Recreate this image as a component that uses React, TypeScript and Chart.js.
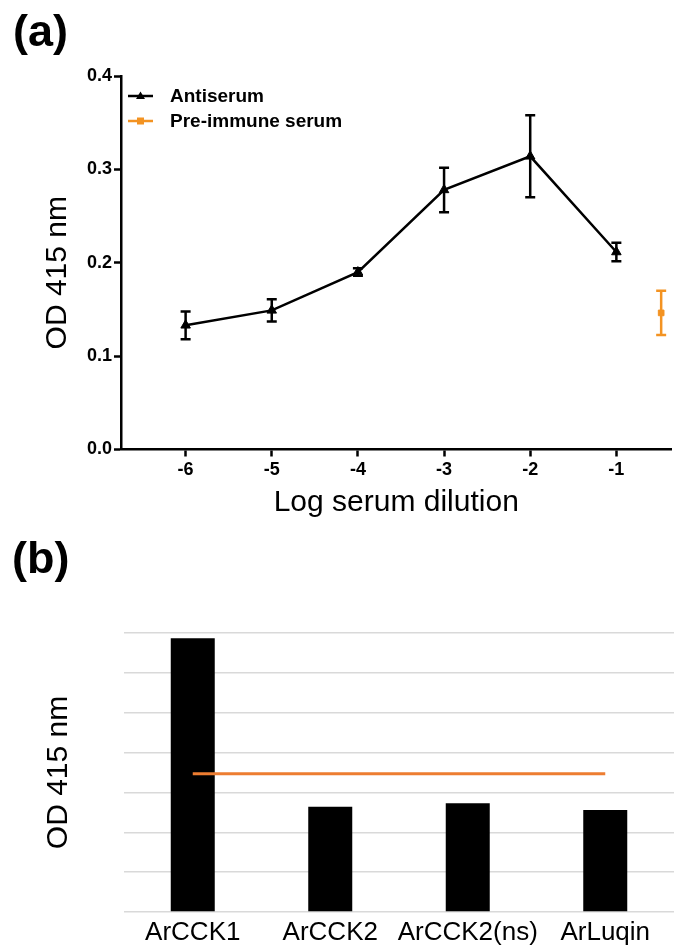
import React, { useEffect, useRef } from 'react';
import { Chart, registerables } from 'chart.js';

Chart.register(...registerables);

// ---------- Data: panel (a) ----------
const dilutions = [-6, -5, -4, -3, -2, -1];
const antiserumOD = [0.133, 0.149, 0.19, 0.278, 0.314, 0.2115];
const antiserumSEM = [0.0148, 0.012, 0.004, 0.0238, 0.0439, 0.01];
const preImmuneX = [-0.48];
const preImmuneOD = [0.1463];
const preImmuneSEM = [0.0237];
const yTicksA = [0, 0.1, 0.2, 0.3, 0.4];
const xTicksA = [-6, -5, -4, -3, -2, -1];

// ---------- Data: panel (b) ----------
const peptides = ['ArCCK1', 'ArCCK2', 'ArCCK2(ns)', 'ArLuqin'];
const peptideOD = [0.687, 0.264, 0.273, 0.256];
const preImmuneLevel = [0.347, 0.347, 0.347, 0.347];

const FONT = '"Liberation Sans", Arial, Helvetica, sans-serif';
const ORANGE_A = '#F39322';
const ORANGE_B = '#ED7D31';

const errorBarPlugin = {
  id: 'errorBars',
  afterDatasetsDraw(chart: any) {
    const { ctx } = chart;
    const yScale = chart.scales.y;
    chart.data.datasets.forEach((ds: any, i: number) => {
      const errs = ds.errors;
      if (!errs) return;
      const meta = chart.getDatasetMeta(i);
      meta.data.forEach((pt: any, j: number) => {
        const v = ds.data[j].y;
        const e = errs[j];
        const x = pt.x;
        const yTop = yScale.getPixelForValue(v + e);
        const yBot = yScale.getPixelForValue(v - e);
        ctx.save();
        ctx.strokeStyle = ds.borderColor;
        ctx.lineWidth = 2.5;
        ctx.beginPath();
        ctx.moveTo(x, yTop);
        ctx.lineTo(x, yBot);
        ctx.moveTo(x - 5, yTop);
        ctx.lineTo(x + 5, yTop);
        ctx.moveTo(x - 5, yBot);
        ctx.lineTo(x + 5, yBot);
        ctx.stroke();
        ctx.restore();
      });
    });
  },
};

const legendPluginA = {
  id: 'legendA',
  afterDraw(chart: any) {
    const { ctx, chartArea } = chart;
    chart.data.datasets.forEach((ds: any, i: number) => {
      const y = chartArea.top + 20 + i * 25;
      const x0 = chartArea.left + 7;
      const x1 = chartArea.left + 32;
      const xm = (x0 + x1) / 2;
      ctx.save();
      ctx.strokeStyle = ds.borderColor;
      ctx.fillStyle = ds.backgroundColor;
      ctx.lineWidth = 2.5;
      ctx.beginPath();
      ctx.moveTo(x0, y);
      ctx.lineTo(x1, y);
      ctx.stroke();
      if (ds.pointStyle === 'triangle') {
        ctx.beginPath();
        ctx.moveTo(xm, y - 4.5);
        ctx.lineTo(xm + 4.5, y + 3);
        ctx.lineTo(xm - 4.5, y + 3);
        ctx.closePath();
        ctx.fill();
      } else {
        ctx.fillRect(xm - 3.5, y - 3.5, 7, 7);
      }
      ctx.fillStyle = '#000';
      ctx.font = `bold 19px ${FONT}`;
      ctx.textBaseline = 'middle';
      ctx.textAlign = 'left';
      ctx.fillText(ds.label, chartArea.left + 49, y + 1);
      ctx.restore();
    });
  },
};

const yTitlePluginA = {
  id: 'yTitleA',
  afterDraw(chart: any) {
    const { ctx, chartArea } = chart;
    ctx.save();
    ctx.translate(58, (chartArea.top + chartArea.bottom) / 2 + 10);
    ctx.rotate(-Math.PI / 2);
    ctx.font = `30px ${FONT}`;
    ctx.fillStyle = '#000';
    ctx.textAlign = 'center';
    ctx.textBaseline = 'middle';
    ctx.fillText('OD 415 nm', 0, 0);
    ctx.restore();
  },
};

function makeConfigA(): any {
  return {
    type: 'line',
    data: {
      datasets: [
        {
          label: 'Antiserum',
          data: dilutions.map((x, i) => ({ x, y: antiserumOD[i] })),
          errors: antiserumSEM,
          borderColor: '#000',
          backgroundColor: '#000',
          borderWidth: 2.5,
          pointStyle: 'triangle',
          pointRadius: 5.5,
          pointBorderWidth: 1,
        },
        {
          label: 'Pre-immune serum',
          data: preImmuneX.map((x, i) => ({ x, y: preImmuneOD[i] })),
          errors: preImmuneSEM,
          borderColor: ORANGE_A,
          backgroundColor: ORANGE_A,
          pointStyle: 'rect',
          pointRadius: 4,
          showLine: false,
        },
      ],
    },
    options: {
      responsive: false,
      animation: false,
      layout: { padding: { top: 76, left: 0, right: 0, bottom: 0 } },
      plugins: { legend: { display: false }, tooltip: { enabled: false } },
      scales: {
        x: {
          type: 'linear',
          min: -6.75,
          max: -0.36,
          afterFit(s: any) {
            s.height = 80.5;
          },
          afterBuildTicks(s: any) {
            s.ticks = xTicksA.map((v) => ({ value: v }));
          },
          ticks: {
            color: '#000',
            font: { family: FONT, size: 18, weight: 'bold' },
            padding: 3,
            callback: (v: any) => String(v),
          },
          grid: {
            display: true,
            drawOnChartArea: false,
            drawTicks: true,
            tickLength: 7,
            tickWidth: 2.5,
            tickColor: '#000',
          },
          border: { display: true, color: '#000', width: 2.5 },
          title: {
            display: true,
            text: 'Log serum dilution',
            color: '#000',
            font: { family: FONT, size: 30 },
            padding: { top: 0, bottom: 9 },
          },
        },
        y: {
          min: 0,
          max: 0.4,
          afterFit(s: any) {
            s.width = 121;
          },
          afterBuildTicks(s: any) {
            s.ticks = yTicksA.map((v) => ({ value: v }));
          },
          ticks: {
            color: '#000',
            font: { family: FONT, size: 18, weight: 'bold' },
            padding: 2,
            callback: (v: any) => Number(v).toFixed(1),
          },
          grid: {
            display: true,
            drawOnChartArea: false,
            drawTicks: true,
            tickLength: 7,
            tickWidth: 2.5,
            tickColor: '#000',
          },
          border: { display: true, color: '#000', width: 2.5 },
          title: { display: false },
        },
      },
    },
    plugins: [errorBarPlugin, legendPluginA, yTitlePluginA],
  };
}

function makeConfigB(): any {
  return {
    type: 'bar',
    data: {
      labels: peptides,
      datasets: [
        {
          type: 'line',
          label: 'Pre-immune serum',
          data: preImmuneLevel,
          borderColor: ORANGE_B,
          backgroundColor: ORANGE_B,
          borderWidth: 3,
          pointRadius: 0,
          order: 0,
        },
        {
          type: 'bar',
          label: 'OD 415 nm',
          data: peptideOD,
          backgroundColor: '#000',
          barPercentage: 0.32,
          categoryPercentage: 1,
          order: 1,
        },
      ],
    },
    options: {
      responsive: false,
      animation: false,
      layout: { padding: { top: 103, right: 4, left: 0, bottom: 0 } },
      plugins: { legend: { display: false }, tooltip: { enabled: false } },
      scales: {
        x: {
          afterFit(s: any) {
            s.height = 38;
          },
          grid: { display: false },
          border: { display: false },
          ticks: {
            color: '#000',
            font: { family: FONT, size: 26 },
            padding: -3,
            maxRotation: 0,
            autoSkip: false,
          },
        },
        y: {
          min: 0,
          max: 0.7,
          afterFit(s: any) {
            s.width = 124;
          },
          ticks: { display: false, stepSize: 0.1 },
          grid: { color: '#D9D9D9', lineWidth: 1.5, drawTicks: false },
          border: { display: false },
          title: {
            display: true,
            text: 'OD 415 nm',
            color: '#000',
            font: { family: FONT, size: 30 },
            padding: { top: 41, bottom: 0 },
          },
        },
      },
    },
  };
}

function ChartCanvas(props: { make: () => any; width: number; height: number; top: number }) {
  const ref = useRef<HTMLCanvasElement | null>(null);
  useEffect(() => {
    const chart = new Chart(ref.current as HTMLCanvasElement, props.make());
    return () => chart.destroy();
  }, []);
  return (
    <canvas
      ref={ref}
      width={props.width}
      height={props.height}
      style={{ position: 'absolute', left: 0, top: props.top, width: props.width, height: props.height }}
    />
  );
}

export default function App() {
  const labelStyle: React.CSSProperties = {
    position: 'absolute',
    fontFamily: FONT,
    fontWeight: 'bold',
    fontSize: 45,
    lineHeight: 'normal',
    color: '#000',
  };
  return (
    <div style={{ position: 'absolute', left: 0, top: 0, width: 678, height: 950, background: '#fff', overflow: 'hidden' }}>
      <ChartCanvas make={makeConfigA} width={678} height={530} top={0} />
      <ChartCanvas make={makeConfigB} width={678} height={420} top={530} />
      <div style={{ ...labelStyle, left: 13, top: 5 }}>(a)</div>
      <div style={{ ...labelStyle, left: 12, top: 532 }}>(b)</div>
    </div>
  );
}
